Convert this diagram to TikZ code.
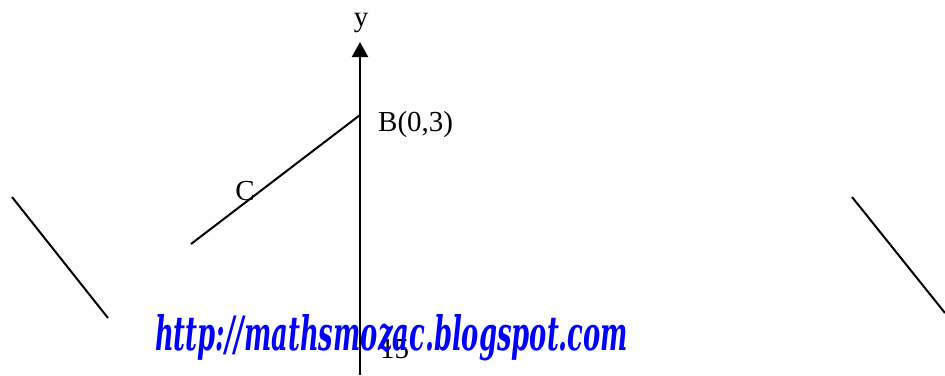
\documentclass[tikz,border=0pt]{standalone}
\usepackage{fontspec}
\setmainfont{Liberation Serif}
\newfontfamily\wmfont{DejaVu Serif}
\usetikzlibrary{arrows.meta}
\definecolor{wmblue}{RGB}{0,0,255}
\tikzset{
  lineseg/.style={line width=2pt, black},
  axislabel/.style={font=\fontsize{29}{32}\selectfont, inner sep=0pt},
}
\begin{document}
\begin{tikzpicture}[x=1pt,y=-1pt]
\useasboundingbox (0,0) rectangle (945,375);
% axis
\coordinate (axbot) at (360,375);
\coordinate (axtop) at (360,42);
\draw[lineseg, -{Triangle[width=16pt,length=15pt]}] (axbot) -- (axtop);
\node[axislabel, anchor=base] (ylab) at (361,26) {y};
% segment BC
\coordinate (B) at (360,115);
\coordinate (Cend) at (191,244);
\draw[lineseg] (B) -- (Cend);
\node[axislabel, anchor=base west] (Blab) at (378,131) {B(0,3)};
\node[axislabel, anchor=base] (Clab) at (245,200) {C};
% side lines
\coordinate (L1) at (12,197);
\coordinate (L2) at (108,318);
\draw[lineseg] (L1) -- (L2);
\coordinate (R1) at (852,197);
\coordinate (R2) at (945,313);
\draw[lineseg] (R1) -- (R2);
% hidden number
\node[axislabel, anchor=base west] (num) at (380,358) {15};
% watermark
\node[anchor=base west, inner sep=0pt, text=wmblue] (wm) at (155,350)
  {\resizebox{473pt}{36pt}{\wmfont\bfseries\itshape http://mathsmozac.blogspot.com}};
\end{tikzpicture}
\end{document}
